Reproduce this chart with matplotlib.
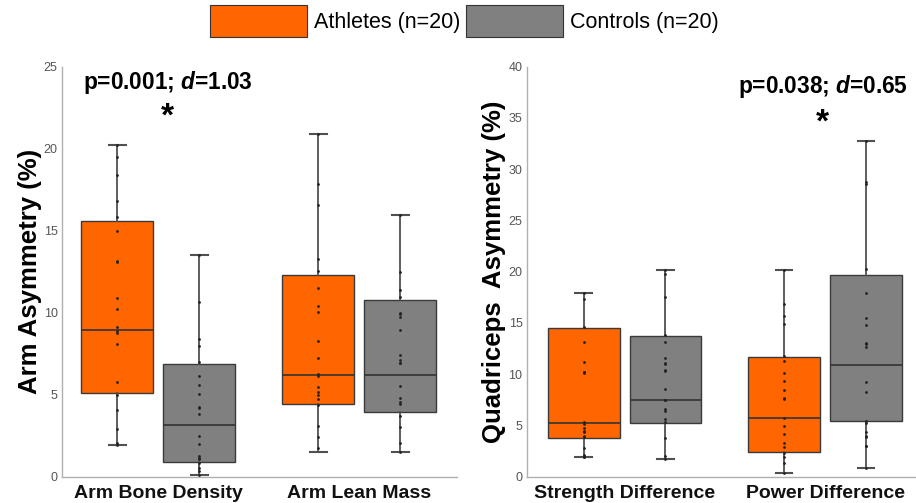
import matplotlib
matplotlib.use("Agg")
import matplotlib.pyplot as plt
from matplotlib.patches import Patch

plt.rcParams['font.family'] = ['Liberation Sans', 'DejaVu Sans']
plt.rcParams['mathtext.fontset'] = 'custom'
plt.rcParams['mathtext.it'] = 'Liberation Sans:italic:bold'
plt.rcParams['mathtext.rm'] = 'Liberation Sans:bold'

# ---------------- data ----------------
groups = ["Athletes (n=20)", "Controls (n=20)"]
colors = ["#FF6600", "#808080"]

arm_categories = ["Arm Bone Density", "Arm Lean Mass"]
quad_categories = ["Strength Difference", "Power Difference"]

# box statistics: [athletes, controls] per category
arm_q1 = [[5.09, 0.90], [4.42, 3.93]]
arm_med = [[8.96, 3.16], [6.21, 6.21]]
arm_q3 = [[15.62, 6.88], [12.30, 10.79]]
arm_lo = [[1.91, 0.10], [1.49, 1.51]]
arm_hi = [[20.26, 13.50], [20.93, 15.94]]

quad_q1 = [[3.80, 5.20], [2.44, 5.43]]
quad_med = [[5.20, 7.48], [5.69, 10.89]]
quad_q3 = [[14.54, 13.72], [11.64, 19.64]]
quad_lo = [[1.92, 1.72], [0.33, 0.88]]
quad_hi = [[17.92, 20.16], [20.16, 32.75]]

# individual points
abd_ath = [20.26, 19.5, 18.4, 16.8, 15.84, 15.0, 13.19, 13.09, 10.89, 10.24,
           9.16, 8.9, 8.79, 8.12, 5.8, 5.0, 4.07, 2.93, 2.08, 1.91]
abd_con = [13.5, 10.65, 8.43, 8.0, 7.02, 6.15, 5.58, 5.05, 4.28, 4.17,
           3.83, 2.48, 2.02, 1.26, 1.15, 1.06, 0.81, 0.55, 0.37, 0.1]
alm_ath = [20.93, 17.85, 16.57, 13.27, 12.58, 11.54, 10.42, 10.08, 8.31, 7.25,
           6.29, 6.15, 5.46, 5.17, 4.99, 4.74, 4.36, 3.09, 2.40, 1.73]
alm_con = [15.94, 12.5, 11.4, 10.99, 9.98, 9.77, 8.96, 7.41, 7.1, 6.95,
           6.92, 5.54, 4.80, 4.54, 4.44, 3.71, 3.05, 2.04, 1.51, 9.9]
sd_ath = [17.92, 17.3, 14.63, 13.14, 11.22, 10.24, 10.2, 10.08, 5.3, 5.14,
          4.78, 4.5, 4.39, 4.0, 3.9, 2.83, 2.11, 2.0, 1.95, 1.92]
sd_con = [20.16, 19.77, 17.5, 13.85, 13.14, 11.58, 11.12, 11.0, 10.4, 10.31,
          8.52, 7.5, 7.48, 6.57, 6.41, 5.66, 5.3, 3.80, 2.05, 1.72]
pd_ath = [20.16, 16.85, 15.67, 14.89, 11.77, 11.32, 10.15, 9.33, 8.46, 7.64,
          7.54, 5.69, 4.98, 4.13, 3.25, 2.89, 2.28, 1.89, 1.30, 0.33]
pd_con = [32.75, 28.78, 28.52, 20.26, 17.89, 15.51, 14.80, 13.01, 12.9, 12.68,
          9.27, 8.29, 5.43, 5.2, 4.39, 4.0, 3.9, 3.0, 2.99, 0.88]

arm_points = [[abd_ath, abd_con], [alm_ath, alm_con]]
quad_points = [[sd_ath, sd_con], [pd_ath, pd_con]]

arm_ticks = [0, 5, 10, 15, 20, 25]
quad_ticks = [0, 5, 10, 15, 20, 25, 30, 35, 40]

# ---------------- figure ----------------
fig = plt.figure(figsize=(9.16, 5.03), dpi=100)
ax1 = fig.add_axes([0.0674, 0.0523, 0.4316, 0.8145])
ax2 = fig.add_axes([0.575, 0.0523, 0.424, 0.815])

offset = 0.204
width = 0.358


def draw(ax, cats, q1, med, q3, lo, hi, pts, ylim, ticks, xlim):
    for ci in range(len(cats)):
        for gi in range(2):
            pos = ci + (-offset if gi == 0 else offset)
            st = dict(med=med[ci][gi], q1=q1[ci][gi], q3=q3[ci][gi],
                      whislo=lo[ci][gi], whishi=hi[ci][gi], fliers=[])
            ax.bxp([st], positions=[pos], widths=width, patch_artist=True,
                   showfliers=False, capwidths=0.083,
                   boxprops=dict(facecolor=colors[gi], edgecolor='#3a3a3a', linewidth=1.0),
                   medianprops=dict(color='#333333', linewidth=1.2),
                   whiskerprops=dict(color='#505050', linewidth=1.3),
                   capprops=dict(color='#505050', linewidth=1.5),
                   manage_ticks=False, zorder=2)
            ys = pts[ci][gi]
            ax.scatter([pos] * len(ys), ys, s=4, color='#222222', zorder=3,
                       linewidths=0)
    ax.set_xlim(*xlim)
    ax.set_ylim(*ylim)
    ax.set_yticks(ticks)
    ax.set_yticklabels([str(t) for t in ticks])
    ax.set_xticks(range(len(cats)))
    ax.set_xticklabels(cats, fontsize=14, fontweight='bold', color='#111111')
    for s in ['top', 'right']:
        ax.spines[s].set_visible(False)
    for s in ['left', 'bottom']:
        ax.spines[s].set_color('#b0b0b0')
        ax.spines[s].set_linewidth(1.0)
    ax.tick_params(axis='y', length=0, labelsize=9, labelcolor='#555555', pad=3)
    ax.tick_params(axis='x', length=0, pad=6)


draw(ax1, arm_categories, arm_q1, arm_med, arm_q3, arm_lo, arm_hi, arm_points,
     (0, 25), arm_ticks, (-0.480, 1.487))
draw(ax2, quad_categories, quad_q1, quad_med, quad_q3, quad_lo, quad_hi, quad_points,
     (0, 40), quad_ticks, (-0.488, 1.449))

ax1.set_ylabel("Arm Asymmetry (%)", fontsize=18.5, fontweight='bold', labelpad=1)
ax2.set_ylabel("Quadriceps  Asymmetry (%)", fontsize=18.5, fontweight='bold', labelpad=2)

fig.text(83 / 916, 1 - 83 / 503, r"p=0.001; $d$=1.03", fontsize=16.3, fontweight='bold',
         ha='left', va='center')
fig.text(167 / 916, 1 - 117 / 503, "*", fontsize=24, fontweight='bold', ha='center', va='center')
fig.text(738 / 916, 1 - 87 / 503, r"p=0.038; $d$=0.65", fontsize=16.3, fontweight='bold',
         ha='left', va='center')
fig.text(822.7 / 916, 1 - 123 / 503, "*", fontsize=24, fontweight='bold', ha='center', va='center')

handles = [Patch(facecolor=colors[i], edgecolor='#333333', linewidth=0.8) for i in range(2)]
fig.legend(handles, groups, loc='upper center', bbox_to_anchor=(0.507, 1.012), ncol=2,
           frameon=False, fontsize=15.5, handlelength=4.5, handleheight=1.95,
           handletextpad=0.3, columnspacing=0.3, borderaxespad=0.1)

fig.savefig("out.png", dpi=100)
